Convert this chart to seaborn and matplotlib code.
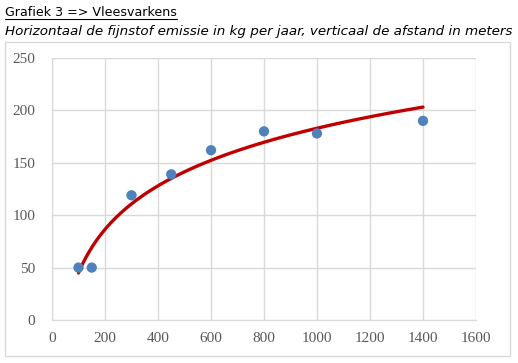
import matplotlib
matplotlib.use("Agg")
import matplotlib.pyplot as plt
import seaborn as sns
import numpy as np
from matplotlib.patches import Rectangle

# data
emissie = [100, 150, 300, 450, 600, 800, 1000, 1400]   # kg per jaar
afstand = [50, 50, 119, 139, 162, 180, 178, 190]        # meters
x_ticks = [0, 200, 400, 600, 800, 1000, 1200, 1400, 1600]
y_ticks = [0, 50, 100, 150, 200, 250]

title = "Grafiek 3 => Vleesvarkens"
subtitle = "Horizontaal de fijnstof emissie in kg per jaar, verticaal de afstand in meters"

sns.set_style("white")
plt.rcParams['font.family'] = ['DejaVu Sans']

W, H = 518, 363
fig = plt.figure(figsize=(W / 100, H / 100), dpi=100)

# chart frame
fig.patches.append(Rectangle((5 / W, 1 - 356 / H), 505 / W, 314 / H, transform=fig.transFigure,
                             facecolor="white", edgecolor="#d9d9d9", lw=1, zorder=-1))

ax = fig.add_axes([52 / W, 1 - 320 / H, 424 / W, 262 / H])
ax.patch.set_alpha(0)

# Excel-style logarithmic trendline
sns.regplot(x=emissie, y=afstand, logx=True, ci=None, ax=ax, scatter=False,
            line_kws=dict(color="#c00000", lw=2.4))
sns.scatterplot(x=emissie, y=afstand, ax=ax, color="#4f81bd", s=55, edgecolor="none", zorder=5)

ax.set_xlim(0, 1600)
ax.set_ylim(0, 250)
ax.set_xticks(x_ticks)
ax.set_yticks(y_ticks)
ax.grid(True, color="#d9d9d9", lw=1)
ax.set_axisbelow(True)
for s in ["top", "right"]:
    ax.spines[s].set_visible(False)
for s in ["left", "bottom"]:
    ax.spines[s].set_color("#d9d9d9")
ax.tick_params(length=0, labelsize=11, colors="#595959")
ax.tick_params(axis="y", pad=12)
ax.tick_params(axis="x", pad=9)
for lab in ax.get_xticklabels() + ax.get_yticklabels():
    lab.set_family("Liberation Serif")
ax.set_xlabel("")
ax.set_ylabel("")

t = fig.text(5 / W, 1 - 12 / H, title, fontsize=9.1, va="center", ha="left", color="black")
fig.text(5 / W, 1 - 31 / H, subtitle, fontsize=9.7, style="italic", va="center", ha="left",
         color="black")

# underline the title
fig.canvas.draw()
bb = t.get_window_extent().transformed(fig.transFigure.inverted())
fig.add_artist(plt.Line2D([bb.x0, bb.x1], [bb.y0, bb.y0], transform=fig.transFigure,
                          color="black", lw=0.8))

fig.savefig("out.png", dpi=100)
